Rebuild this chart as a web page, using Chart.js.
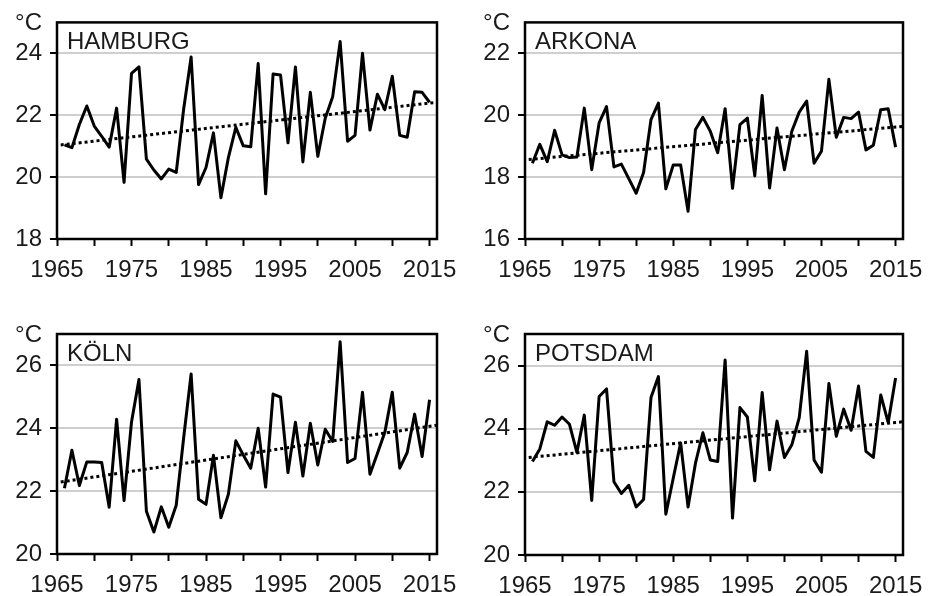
<!DOCTYPE html>
<html>
<head>
<meta charset="utf-8">
<title>Sommertemperaturen</title>
<script src="https://cdn.jsdelivr.net/npm/chart.js@4.4.1/dist/chart.umd.min.js"></script>
<style>
  html, body { margin: 0; padding: 0; background: #fff; }
  #wrap { position: relative; width: 934px; height: 596px; background: #fff; }
  canvas { position: absolute; }
</style>
</head>
<body>
<div id="wrap">
  <canvas id="hamburg" width="467" height="298" style="left:0;top:0"></canvas>
  <canvas id="arkona" width="467" height="298" style="left:467px;top:0"></canvas>
  <canvas id="koeln" width="467" height="298" style="left:0;top:298px"></canvas>
  <canvas id="potsdam" width="467" height="298" style="left:467px;top:298px"></canvas>
</div>
<script>
const years = [
  1966, 1967, 1968, 1969, 1970, 1971, 1972, 1973, 1974, 1975,
  1976, 1977, 1978, 1979, 1980, 1981, 1982, 1983, 1984, 1985,
  1986, 1987, 1988, 1989, 1990, 1991, 1992, 1993, 1994, 1995,
  1996, 1997, 1998, 1999, 2000, 2001, 2002, 2003, 2004, 2005,
  2006, 2007, 2008, 2009, 2010, 2011, 2012, 2013, 2014, 2015
];

const hamburg = [
  21.04, 20.95, 21.7, 22.3, 21.65, 21.32, 20.97, 22.23, 19.83, 23.35,
  23.56, 20.58, 20.23, 19.94, 20.26, 20.15, 22.2, 23.88, 19.76, 20.31,
  21.43, 19.33, 20.63, 21.61, 21.01, 20.98, 23.67, 19.46, 23.33, 23.3,
  21.11, 23.56, 20.49, 22.74, 20.67, 21.9, 22.6, 24.38, 21.16, 21.35,
  24.0, 21.52, 22.68, 22.18, 23.26, 21.35, 21.29, 22.76, 22.74, 22.42
];
const arkona = [
  18.45, 19.06, 18.5, 19.51, 18.72, 18.63, 18.65, 20.23, 18.24, 19.75,
  20.28, 18.33, 18.42, 17.95, 17.48, 18.15, 19.86, 20.39, 17.62, 18.39,
  18.39, 16.9, 19.54, 19.93, 19.48, 18.79, 20.21, 17.64, 19.7, 19.91,
  18.04, 20.64, 17.65, 19.59, 18.24, 19.48, 20.1, 20.46, 18.45, 18.84,
  21.16, 19.29, 19.93, 19.89, 20.1, 18.88, 19.03, 20.18, 20.21, 18.97
];
const koeln = [
  22.09, 23.3, 22.18, 22.93, 22.93, 22.91, 21.49, 24.29, 21.7, 24.2,
  25.55, 21.36, 20.7, 21.5, 20.85, 21.55, 23.7, 25.73, 21.74, 21.58,
  23.14, 21.15, 21.9, 23.6, 23.15, 22.73, 24.0, 22.13, 25.09, 24.99,
  22.59, 24.19, 22.48, 24.16, 22.83, 23.97, 23.58, 26.75, 22.91, 23.04,
  25.15, 22.54, 23.2, 23.87, 25.15, 22.73, 23.23, 24.45, 23.1, 24.91
];
const potsdam = [
  22.96, 23.36, 24.22, 24.11, 24.37, 24.14, 23.25, 24.43, 21.73, 25.02,
  25.26, 22.32, 21.95, 22.21, 21.52, 21.76, 24.99, 25.65, 21.29, 22.43,
  23.55, 21.52, 22.91, 23.87, 23.01, 22.96, 26.18, 21.17, 24.67, 24.37,
  22.35, 25.15, 22.7, 24.24, 23.09, 23.49, 24.35, 26.45, 23.01, 22.62,
  25.43, 23.76, 24.62, 23.95, 25.35, 23.28, 23.09, 25.07, 24.19, 25.61
];

// linear trend, given by its two end points
const trendYears = [1965.5, 2016];
const hamburgTrend = [21.04, 22.42];
const arkonaTrend = [18.57, 19.64];
const koelnTrend = [22.29, 24.1];
const potsdamTrend = [23.09, 24.22];

const xTicks = [1965, 1970, 1975, 1980, 1985, 1990, 1995, 2000, 2005, 2010, 2015];

const FONT = "'Liberation Sans', Arial, sans-serif";
const TEXT = '#1a1a1a';
const W = 467, H = 298, Y_AXIS_W = 57, X_AXIS_H = 40;

// frame, station name and unit label
const panelDecor = {
  id: 'panelDecor',
  afterDatasetsDraw(chart, args, opts) {
    const { ctx, chartArea: a } = chart;
    ctx.save();
    ctx.strokeStyle = '#000';
    ctx.lineWidth = 2.5;
    ctx.strokeRect(a.left, a.top, a.right - a.left, a.bottom - a.top);
    ctx.fillStyle = TEXT;
    ctx.font = '24px ' + FONT;
    ctx.textBaseline = 'alphabetic';
    ctx.textAlign = 'left';
    ctx.fillText(opts.name, a.left + 10, a.top + 26.5);
    ctx.textAlign = 'right';
    ctx.fillText('°C', a.left - 15, a.top + 8);
    ctx.restore();
  }
};

function makePanel(id, name, values, trend, yMin, yTicks, box) {
  new Chart(document.getElementById(id), {
    type: 'line',
    data: {
      datasets: [
        {
          data: years.map((yr, i) => ({ x: yr, y: values[i] })),
          borderColor: '#000',
          borderWidth: 3,
          pointRadius: 0,
          tension: 0,
          borderJoinStyle: 'round'
        },
        {
          data: trendYears.map((yr, i) => ({ x: yr, y: trend[i] })),
          borderColor: '#000',
          borderWidth: 3,
          borderDash: [3, 3],
          pointRadius: 0
        }
      ]
    },
    options: {
      responsive: false,
      animation: false,
      layout: {
        padding: {
          left: box.left - Y_AXIS_W,
          top: box.top,
          right: W - box.right,
          bottom: H - box.bottom - X_AXIS_H
        }
      },
      plugins: {
        legend: { display: false },
        tooltip: { enabled: false },
        panelDecor: { name: name }
      },
      scales: {
        x: {
          type: 'linear',
          min: 1965,
          max: 2016,
          afterBuildTicks: (axis) => { axis.ticks = xTicks.map((v) => ({ value: v })); },
          afterFit: (axis) => { axis.height = X_AXIS_H; },
          border: { display: false },
          grid: {
            drawOnChartArea: false,
            tickColor: '#000',
            tickLength: 7,
            tickWidth: 2
          },
          ticks: {
            autoSkip: false,
            maxRotation: 0,
            padding: 10,
            color: TEXT,
            font: { family: FONT, size: 24 },
            callback: (v) => (v % 10 === 5 ? String(v) : '')
          }
        },
        y: {
          min: yMin,
          max: yMin + 7,
          afterBuildTicks: (axis) => { axis.ticks = yTicks.map((v) => ({ value: v })); },
          afterFit: (axis) => { axis.width = Y_AXIS_W; },
          border: { display: false },
          grid: {
            color: '#cfcfcf',
            lineWidth: 2,
            tickColor: '#000',
            tickLength: 7,
            tickWidth: 2
          },
          ticks: {
            padding: 8,
            color: TEXT,
            font: { family: FONT, size: 24 }
          }
        }
      }
    },
    plugins: [panelDecor]
  });
}

makePanel('hamburg', 'HAMBURG', hamburg, hamburgTrend, 18, [18, 20, 22, 24],
  { left: 57, top: 20, right: 437, bottom: 239 });
makePanel('arkona', 'ARKONA', arkona, arkonaTrend, 16, [16, 18, 20, 22],
  { left: 58, top: 20, right: 436, bottom: 239 });
makePanel('koeln', 'KÖLN', koeln, koelnTrend, 20, [20, 22, 24, 26],
  { left: 57, top: 36, right: 437, bottom: 256 });
makePanel('potsdam', 'POTSDAM', potsdam, potsdamTrend, 20, [20, 22, 24, 26],
  { left: 58, top: 36, right: 436, bottom: 257 });
</script>
</body>
</html>
